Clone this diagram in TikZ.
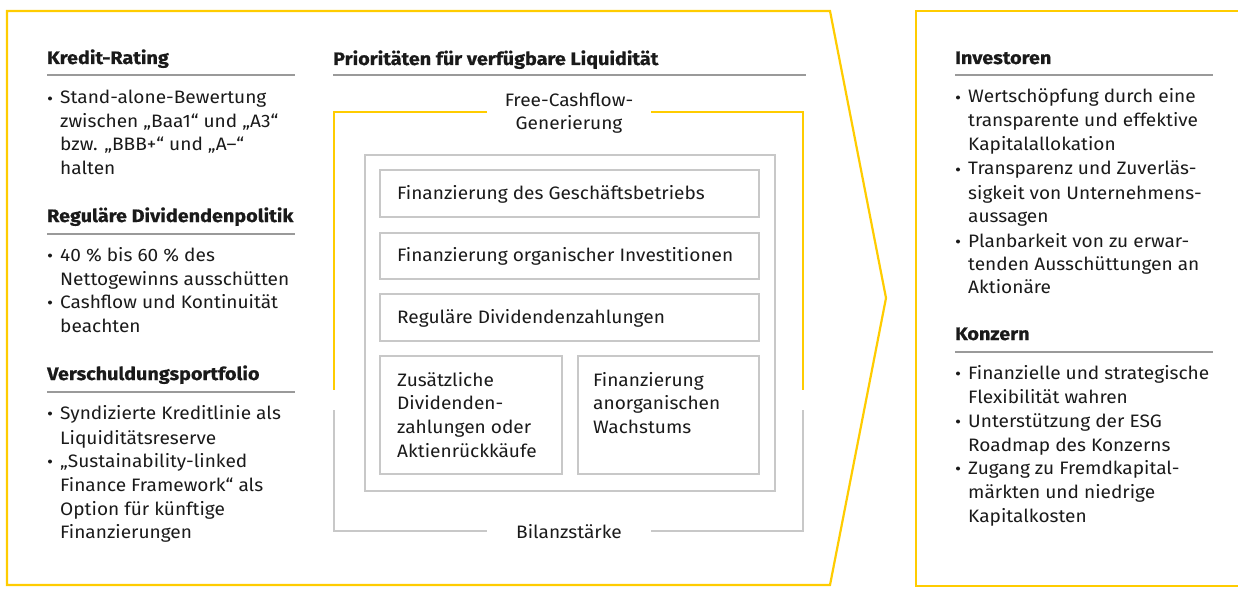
\documentclass[tikz,border=0pt]{standalone}
\usepackage{fontspec}
\setmainfont{Fira Sans}[FakeStretch=1.06, BoldFeatures={FakeStretch=1.1, FakeBold=0.6}]
\definecolor{dhly}{HTML}{FFCC00}
\definecolor{boxg}{HTML}{C8C8C8}
\definecolor{ruleg}{HTML}{9A9A9A}
\definecolor{txt}{HTML}{1A1A1A}
\tikzset{
  t/.style={anchor=base west, inner sep=0pt, font=\fontsize{18pt}{24pt}\selectfont, text=txt},
  tc/.style={t, anchor=base},
  hd/.style={t, font=\fontsize{18pt}{24pt}\selectfont\bfseries},
  bul/.style={circle, fill=txt, inner sep=0pt, minimum size=4pt},
  rulel/.style={draw=ruleg, line width=1.2pt},
  ybord/.style={draw=dhly, line width=2.2pt},
  gbord/.style={draw=boxg, line width=2pt},
  gbox/.style={draw=boxg, line width=2pt, inner sep=0pt, anchor=north west}
}
\newcommand\Ln[4]{\node[t] (#1) at (#2,#3) {#4};}
\newcommand\Bu[3]{\node[bul] (#1) at (#2,#3-5.5) {};}
\begin{document}
\begin{tikzpicture}[x=1pt,y=-1pt]
\useasboundingbox (0,0) rectangle (1238,596);
% outer shapes
\draw[ybord, line join=miter] (7,11) -- (830,11) -- (886,298) -- (830,585) -- (7,585) -- cycle;
\draw[ybord] (1240,11) -- (916,11) -- (916,586) -- (1240,586);

% ---------------- left column
\node[hd] (h1) at (47,64) {Kredit-Rating};
\draw[rulel] (47,75) coordinate (r1a) -- (295,75) coordinate (r1b);
\Bu{b11}{50}{104}
\Ln{l11}{60}{104}{Stand-alone-Bewertung}
\Ln{l12}{60}{128}{zwischen „Baa1“ und „A3“}
\Ln{l13}{60}{151}{bzw. „BBB+“ und „A–“}
\Ln{l14}{60}{175}{halten}

\node[hd] (h2) at (47,222) {Reguläre Dividendenpolitik};
\draw[rulel] (47,234) coordinate (r2a) -- (295,234) coordinate (r2b);
\Bu{b21}{50}{261}
\Ln{l21}{60}{261}{40 \% bis 60 \% des}
\Ln{l22}{60}{285}{Nettogewinns ausschütten}
\Bu{b22}{50}{308}
\Ln{l23}{60}{308}{Cashflow und Kontinuität}
\Ln{l24}{60}{332}{beachten}

\node[hd] (h3) at (47,380) {Verschuldungsportfolio};
\draw[rulel] (47,392) coordinate (r3a) -- (295,392) coordinate (r3b);
\Bu{b31}{50}{419}
\Ln{l31}{60}{419}{Syndizierte Kreditlinie als}
\Ln{l32}{60}{444}{Liquiditätsreserve}
\Bu{b32}{50}{467}
\Ln{l33}{60}{467}{„Sustainability-linked}
\Ln{l34}{60}{491}{Finance Framework“ als}
\Ln{l35}{60}{515}{Option für künftige}
\Ln{l36}{60}{538}{Finanzierungen}

% ---------------- centre
\node[hd] (hc) at (333,65) {Prioritäten für verfügbare Liquidität};
\draw[rulel] (333,75) coordinate (rca) -- (806,75) coordinate (rcb);

\node[tc] (fcf1) at (569,107) {Free-Cashflow-};
\node[tc] (fcf2) at (569,130) {Generierung};
\node[tc] (bil) at (569,538) {Bilanzstärke};

\draw[ybord] (487,112) -- (334,112) -- (334,390);
\draw[ybord] (651,112) -- (803,112) -- (803,390);
\draw[gbord] (334,410) -- (334,531) -- (487,531);
\draw[gbord] (803,410) -- (803,531) -- (651,531);

\node[gbox, minimum width=410pt, minimum height=336pt] (inner) at (364,154) {};
\node[gbox, minimum width=379pt, minimum height=47pt] (bx1) at (379,169) {};
\node[gbox, minimum width=379pt, minimum height=46pt] (bx2) at (379,232) {};
\node[gbox, minimum width=379pt, minimum height=47pt] (bx3) at (379,293) {};
\node[gbox, minimum width=182pt, minimum height=118pt] (bx4) at (379,355) {};
\node[gbox, minimum width=181pt, minimum height=118pt] (bx5) at (577,355) {};

\Ln{c1}{397}{199}{Finanzierung des Geschäftsbetriebs}
\Ln{c2}{397}{261}{Finanzierung organischer Investitionen}
\Ln{c3}{397}{323}{Reguläre Dividendenzahlungen}
\Ln{c41}{397}{386}{Zusätzliche}
\Ln{c42}{397}{409}{Dividenden-}
\Ln{c43}{397}{433}{zahlungen oder}
\Ln{c44}{397}{457}{Aktienrückkäufe}
\Ln{c51}{593}{386}{Finanzierung}
\Ln{c52}{593}{409}{anorganischen}
\Ln{c53}{593}{433}{Wachstums}

% ---------------- right column
\node[hd] (h4) at (955,64) {Investoren};
\draw[rulel] (955,75) coordinate (r4a) -- (1213,75) coordinate (r4b);
\Bu{b41}{958}{103}
\Ln{i11}{968}{103}{Wertschöpfung durch eine}
\Ln{i12}{968}{127}{transparente und effektive}
\Ln{i13}{968}{151}{Kapitalallokation}
\Bu{b42}{958}{175}
\Ln{i21}{968}{175}{Transparenz und Zuverläs-}
\Ln{i22}{968}{199}{sigkeit von Unternehmens-}
\Ln{i23}{968}{222}{aussagen}
\Bu{b43}{958}{247}
\Ln{i31}{968}{247}{Planbarkeit von zu erwar-}
\Ln{i32}{968}{270}{tenden Ausschüttungen an}
\Ln{i33}{968}{293}{Aktionäre}

\node[hd] (h5) at (955,340) {Konzern};
\draw[rulel] (955,352) coordinate (r5a) -- (1213,352) coordinate (r5b);
\Bu{b51}{958}{379}
\Ln{k11}{968}{379}{Finanzielle und strategische}
\Ln{k12}{968}{403}{Flexibilität wahren}
\Bu{b52}{958}{427}
\Ln{k21}{968}{427}{Unterstützung der ESG}
\Ln{k22}{968}{451}{Roadmap des Konzerns}
\Bu{b53}{958}{474}
\Ln{k31}{968}{474}{Zugang zu Fremdkapital-}
\Ln{k32}{968}{498}{märkten und niedrige}
\Ln{k33}{968}{522}{Kapitalkosten}
\end{tikzpicture}
\end{document}
